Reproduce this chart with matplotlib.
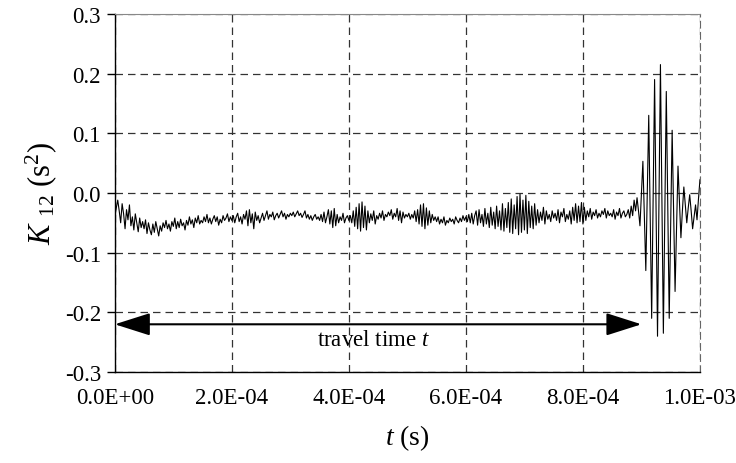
import numpy as np
import matplotlib
matplotlib.use("Agg")
import matplotlib.pyplot as plt

plt.rcParams['font.family'] = ['Liberation Serif', 'DejaVu Serif']
plt.rcParams['mathtext.fontset'] = 'custom'
plt.rcParams['mathtext.rm'] = 'Liberation Serif'
plt.rcParams['mathtext.it'] = 'Liberation Serif:italic'

# sampling of the recorded cross-correlation K12
dt = 2.5e-6

# K12 values (s^2), 20 samples per row
k12_quiet = [
    -0.040, -0.025, -0.012, -0.030, -0.050, -0.018, -0.035, -0.060, -0.028, -0.045, -0.020, -0.055, -0.040, -0.062, -0.035, -0.050, -0.065, -0.042, -0.058, -0.048,
    -0.060, -0.045, -0.068, -0.050, -0.062, -0.070, -0.052, -0.066, -0.048, -0.060, -0.072, -0.055, -0.064, -0.050, -0.058, -0.046, -0.060, -0.052, -0.064, -0.048,
    -0.056, -0.042, -0.060, -0.048, -0.058, -0.044, -0.055, -0.050, -0.062, -0.046, -0.054, -0.040, -0.052, -0.045, -0.058, -0.042, -0.050, -0.038, -0.052, -0.046,
    -0.050, -0.040, -0.048, -0.036, -0.050, -0.042, -0.052, -0.044, -0.038, -0.048, -0.040, -0.054, -0.044, -0.050, -0.038, -0.046, -0.042, -0.035, -0.048, -0.040,
    -0.046, -0.038, -0.050, -0.040, -0.034, -0.048, -0.040, -0.052, -0.036, -0.044, -0.030, -0.055, -0.028, -0.050, -0.035, -0.060, -0.032, -0.046, -0.038, -0.050,
    -0.042, -0.034, -0.046, -0.038, -0.030, -0.044, -0.036, -0.040, -0.032, -0.045, -0.038, -0.034, -0.042, -0.036, -0.030, -0.040, -0.034, -0.044, -0.036, -0.040,
    -0.034, -0.038, -0.032, -0.040, -0.035, -0.030, -0.038, -0.034, -0.041, -0.036, -0.030, -0.042, -0.036, -0.044, -0.038, -0.046, -0.040, -0.036, -0.044, -0.040,
    -0.046, -0.036, -0.048, -0.032, -0.050, -0.040, -0.028, -0.052, -0.030, -0.058, -0.026, -0.055, -0.036, -0.050, -0.040, -0.046, -0.034, -0.050, -0.042, -0.038,
    -0.046, -0.038, -0.050, -0.030, -0.056, -0.024, -0.060, -0.018, -0.064, -0.015, -0.058, -0.022, -0.062, -0.030, -0.050, -0.035, -0.046, -0.030, -0.052, -0.038,
    -0.044, -0.034, -0.042, -0.030, -0.046, -0.036, -0.040, -0.032, -0.038, -0.028, -0.044, -0.034, -0.040, -0.026, -0.046, -0.030, -0.050, -0.032, -0.042, -0.036,
    -0.040, -0.034, -0.044, -0.036, -0.042, -0.030, -0.048, -0.028, -0.052, -0.020, -0.056, -0.018, -0.060, -0.025, -0.054, -0.030, -0.050, -0.036, -0.046, -0.040,
    -0.048, -0.040, -0.052, -0.044, -0.050, -0.040, -0.054, -0.046, -0.050, -0.042, -0.048, -0.044, -0.052, -0.040, -0.046, -0.050, -0.042, -0.048, -0.038, -0.046,
    -0.040, -0.048, -0.036, -0.050, -0.034, -0.052, -0.038, -0.030, -0.054, -0.028, -0.050, -0.036, -0.056, -0.026, -0.052, -0.034, -0.058, -0.024, -0.054, -0.032,
    -0.060, -0.022, -0.056, -0.030, -0.062, -0.018, -0.064, -0.026, -0.058, -0.016, -0.066, -0.010, -0.068, -0.020, -0.060, -0.006, -0.070, -0.002, -0.066, -0.012,
    -0.062, -0.004, -0.068, -0.014, -0.058, -0.022, -0.060, -0.018, -0.054, -0.028, -0.050, -0.032, -0.046, -0.024, -0.052, -0.030, -0.044, -0.036, -0.048, -0.030,
    -0.042, -0.034, -0.046, -0.028, -0.050, -0.032, -0.040, -0.026, -0.048, -0.036, -0.044, -0.030, -0.052, -0.024, -0.046, -0.018, -0.050, -0.022, -0.048, -0.016,
    -0.052, -0.024, -0.046, -0.030, -0.040, -0.026, -0.044, -0.032, -0.038, -0.028, -0.042, -0.034, -0.040, -0.030, -0.036, -0.026, -0.042, -0.030, -0.038, -0.034,
    -0.040, -0.028, -0.044, -0.032, -0.038, -0.026, -0.042, -0.034, -0.030, -0.040, -0.036, -0.028, -0.042, -0.022, -0.038, -0.012, -0.030, -0.008, -0.030, -0.055,
]
k12_burst = [
    0.000, 0.053, -0.040, -0.130, 0.000, 0.130, -0.040, -0.210, -0.010, 0.190, -0.020, -0.240, -0.010, 0.215, -0.010, -0.235, -0.030, 0.170, -0.020, -0.210,
    -0.050, 0.105, -0.030, -0.165, -0.060, 0.045, -0.015, -0.075, -0.030, 0.010, -0.020, -0.050, -0.025, -0.003, -0.030, -0.060, -0.040, -0.020, -0.045, -0.010,
    0.022,
]
k12 = np.array(k12_quiet + k12_burst)
t = np.arange(len(k12)) * dt

# travel time annotation (s, s^2)
arrow_start = 0.0
arrow_end = 9.0e-4
arrow_level = -0.22
arrow_text = "travel time $t$"

x_ticks = [0.0, 2e-4, 4e-4, 6e-4, 8e-4, 1e-3]
x_labels = ["0.0E+00", "2.0E-04", "4.0E-04", "6.0E-04", "8.0E-04", "1.0E-03"]
y_ticks = [-0.3, -0.2, -0.1, 0.0, 0.1, 0.2, 0.3]
y_labels = ["-0.3", "-0.2", "-0.1", "0.0", "0.1", "0.2", "0.3"]

fig = plt.figure(figsize=(7.36, 4.64), dpi=100)
ax = fig.add_axes([0.156, 0.196, 0.795, 0.772])

ax.plot(t, k12, color='black', lw=0.8)

ax.set_xlim(0, 1e-3)
ax.set_ylim(-0.3, 0.3)
ax.set_xticks(x_ticks)
ax.set_xticklabels(x_labels)
ax.set_yticks(y_ticks)
ax.set_yticklabels(y_labels)
ax.tick_params(axis='y', direction='out', length=6, width=1, labelsize=16.5, pad=4)
ax.tick_params(axis='x', direction='out', length=0, labelsize=16.5, pad=11)

ax.grid(True, color='#333333', ls=(0, (6, 4)), lw=0.9)
for side in ['left', 'bottom']:
    ax.spines[side].set_color('black')
    ax.spines[side].set_linewidth(1.0)
ax.spines['top'].set_color('#888888')
ax.spines['right'].set_color('#666666')
ax.spines['right'].set_linestyle((0, (6, 4)))

ax.annotate('', xy=(arrow_end, arrow_level), xytext=(arrow_start, arrow_level),
            arrowprops=dict(arrowstyle='<|-|>,head_length=1.1,head_width=0.35',
                            mutation_scale=20, color='black', lw=1.5,
                            shrinkA=0, shrinkB=0))
ax.text(4.42e-4, arrow_level - 0.008, arrow_text,
        ha='center', va='top', fontsize=16.5)

ax.set_xlabel("$t$ (s)", fontsize=20, labelpad=10)
ax.set_ylabel("$K$ $_{12}$ (s$^{2}$)", fontsize=22, labelpad=4)

fig.savefig("out.png", dpi=100)
